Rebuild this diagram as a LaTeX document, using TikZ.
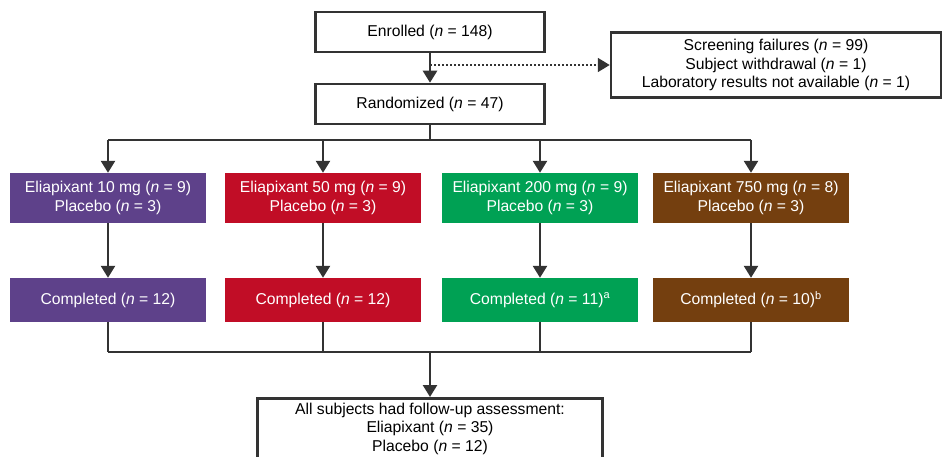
\documentclass[tikz,border=0pt]{standalone}
\usepackage{fontspec}
\setmainfont{Liberation Sans}
\usetikzlibrary{arrows.meta}
\definecolor{lin}{HTML}{333333}
\definecolor{cpurple}{HTML}{5E418A}
\definecolor{cred}{HTML}{C10D26}
\definecolor{cgreen}{HTML}{00A154}
\definecolor{cbrown}{HTML}{743F0F}
\begin{document}
\begin{tikzpicture}[x=1pt,y=-1pt,
  font=\fontsize{15.7}{18.3}\selectfont,
  wbox/.style={draw=lin,line width=2.5pt,fill=white,align=center,inner sep=0pt},
  cbox/.style={fill=#1,text=white,align=center,inner sep=0pt,minimum width=196pt},
  conn/.style={draw=lin,line width=2.5pt},
  arr/.style={conn,-{Triangle[length=12pt,width=14pt]}},
  dotarr/.style={draw=lin,line width=1.8pt,dash pattern=on 2pt off 2pt,-{Triangle[length=12pt,width=14pt]}}
]
\useasboundingbox (0,0) rectangle (942,457);
\node[wbox,minimum width=229pt,minimum height=40pt] (enr) at (430,32) {Enrolled (\textit{n} = 148)};
\node[wbox,minimum width=229pt,minimum height=40pt] (rand) at (430,104) {Randomized (\textit{n} = 47)};
\node[wbox,minimum width=330pt,minimum height=65pt] (side) at (776,65) {Screening failures (\textit{n} = 99)\\Subject withdrawal (\textit{n} = 1)\\Laboratory results not available (\textit{n} = 1)};
\coordinate (mid) at (430,65);
\coordinate (busA) at (430,140);
\coordinate (busB) at (430,352);

\node[cbox=cpurple,minimum height=50pt] (g1) at (108,198) {Eliapixant 10 mg (\textit{n} = 9)\\Placebo (\textit{n} = 3)};
\node[cbox=cred,minimum height=50pt] (g2) at (323,198) {Eliapixant 50 mg (\textit{n} = 9)\\Placebo (\textit{n} = 3)};
\node[cbox=cgreen,minimum height=50pt] (g3) at (540,198) {Eliapixant 200 mg (\textit{n} = 9)\\Placebo (\textit{n} = 3)};
\node[cbox=cbrown,minimum height=50pt] (g4) at (751,198) {Eliapixant 750 mg (\textit{n} = 8)\\Placebo (\textit{n} = 3)};

\node[cbox=cpurple,minimum height=44pt] (c1) at (108,300) {Completed (\textit{n} = 12)};
\node[cbox=cred,minimum height=44pt] (c2) at (323,300) {Completed (\textit{n} = 12)};
\node[cbox=cgreen,minimum height=44pt] (c3) at (540,300) {Completed (\textit{n} = 11)\textsuperscript{a}};
\node[cbox=cbrown,minimum height=44pt] (c4) at (751,300) {Completed (\textit{n} = 10)\textsuperscript{b}};

\node[wbox,minimum width=345pt,minimum height=72pt,anchor=north,inner ysep=5pt] (fu) at (430,397) {All subjects had follow-up assessment:\\Eliapixant (\textit{n} = 35)\\Placebo (\textit{n} = 12)\\[8pt]};

\draw[arr] (enr) -- (rand);
\draw[dotarr] (mid) -- (side.west);
\draw[conn] (rand) -- (busA);
\draw[conn] (g1.north |- busA) -- (g4.north |- busA);
\foreach \i in {1,2,3,4} {
  \draw[arr] (g\i.north |- busA) -- (g\i.north);
  \draw[arr] (g\i) -- (c\i);
  \draw[conn] (c\i) -- (c\i.south |- busB);
}
\draw[conn] (c1.south |- busB) -- (c4.south |- busB);
\draw[arr] (busB) -- (fu.north);
\end{tikzpicture}
\end{document}
